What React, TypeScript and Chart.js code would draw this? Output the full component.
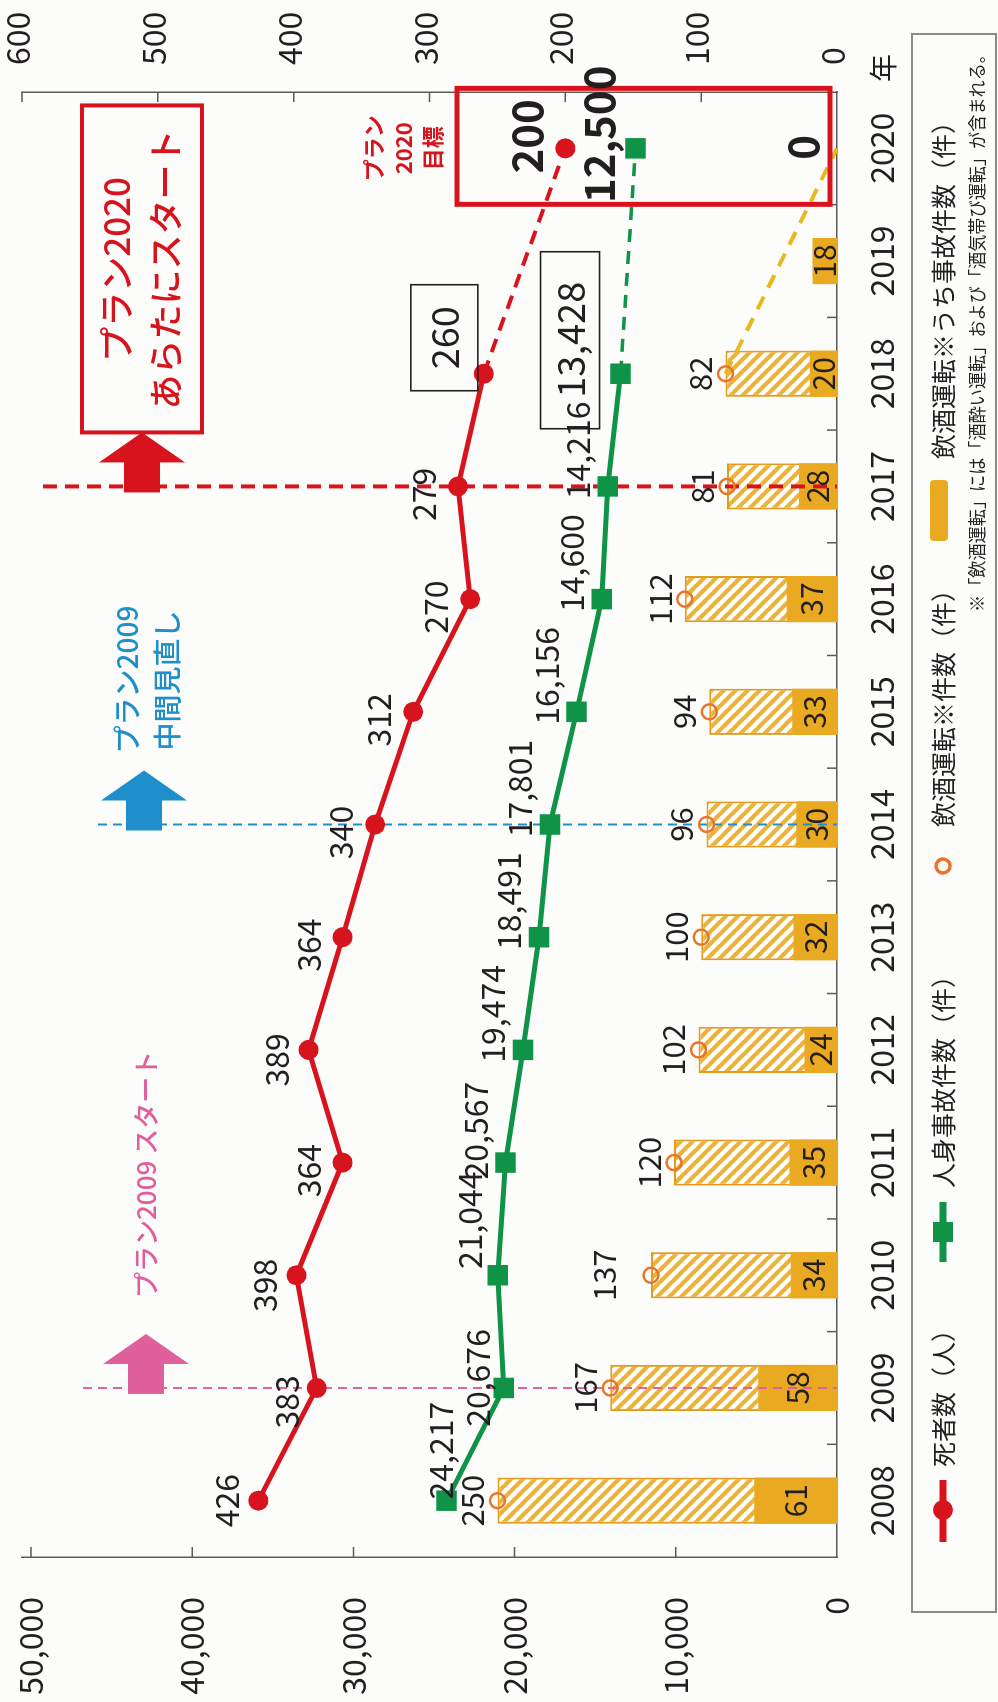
import { useEffect, useRef } from 'react';
import { Chart, registerables } from 'chart.js';

Chart.register(...registerables);

// ---------- data ----------
const years = ['2008', '2009', '2010', '2011', '2012', '2013', '2014', '2015', '2016', '2017', '2018', '2019', '2020'];
const deaths = [426, 383, 398, 364, 389, 364, 340, 312, 270, 279, 260, null, null];
const deathsTarget = [null, null, null, null, null, null, null, null, null, null, 260, null, 200];
const accidents = [24217, 20676, 21044, 20567, 19474, 18491, 17801, 16156, 14600, 14216, 13428, null, null];
const accidentsTarget = [null, null, null, null, null, null, null, null, null, null, 13428, null, 12500];
const drunkCases = [250, 167, 137, 120, 102, 100, 96, 94, 112, 81, 82, null, null];
const drunkCasesTarget = [null, null, null, null, null, null, null, null, null, null, 82, null, 0];
const drunkAccidents = [61, 58, 34, 35, 24, 32, 30, 33, 37, 28, 20, 18, null];
const accidentTicks = [0, 10000, 20000, 30000, 40000, 50000];
const deathTicks = [0, 100, 200, 300, 400, 500, 600];

// ---------- layout / style ----------
const W = 1702;
const H = 998;
const FONT = '"Noto Sans CJK JP", "Noto Sans", sans-serif';
const BG = '#fcfcfa';
const RED = '#d7141e';
const GREEN = '#0e9347';
const BLUE = '#1e8fcb';
const PINK = '#e0609e';
const GOLD = '#e9aa22';
const HATCH = '#ebb33a';
const BAR_EDGE = '#e59b1d';
const CIRCLE = '#e8762a';
const YELLOW = '#e8b820';
const TEXT = '#231f20';
const AXIS = '#5a5a5a';

const deathLabelOff: [number, number][] = [[0, -32], [-14, -30], [-10, -32], [-8, -34], [-10, -32], [-8, -34], [-8, -34], [-8, -34], [-8, -34], [-8, -34]];
const accLabelOff: [number, number][] = [[50, -6], [10, -26], [55, -28], [32, -30], [36, -30], [36, -30], [36, -30], [36, -30], [36, -30], [36, -30]];
const caseLabelOff: [number, number][] = [[0, -25], [0, -25], [0, -47], [0, -25], [0, -25], [0, -25], [0, -25], [0, -25], [0, -25], [0, -25], [0, -25]];

function makeHatch(): CanvasPattern {
  const s = 12;
  const c = document.createElement('canvas');
  c.width = s;
  c.height = s;
  const g = c.getContext('2d')!;
  g.fillStyle = '#ffffff';
  g.fillRect(0, 0, s, s);
  g.strokeStyle = HATCH;
  g.lineWidth = 4.2;
  for (const k of [-1, 0, 1]) {
    g.beginPath();
    g.moveTo(k * s - 1, -1);
    g.lineTo(k * s + s + 1, s + 1);
    g.stroke();
  }
  return g.createPattern(c, 'repeat')!;
}

function txt(ctx: CanvasRenderingContext2D, s: string, x: number, y: number, size: number, color: string, weight = 'normal', align: CanvasTextAlign = 'center', maxWidth?: number) {
  ctx.font = `${weight} ${size}px ${FONT}`;
  ctx.fillStyle = color;
  ctx.textAlign = align;
  ctx.textBaseline = 'middle';
  if (maxWidth) ctx.fillText(s, x, y, maxWidth);
  else ctx.fillText(s, x, y);
}

function arrow(ctx: CanvasRenderingContext2D, tailX: number, cy: number, color: string) {
  const len = 60, head = 30, hh = 43, sh = 18;
  ctx.fillStyle = color;
  ctx.beginPath();
  ctx.moveTo(tailX, cy - sh);
  ctx.lineTo(tailX + len - head, cy - sh);
  ctx.lineTo(tailX + len - head, cy - hh);
  ctx.lineTo(tailX + len, cy);
  ctx.lineTo(tailX + len - head, cy + hh);
  ctx.lineTo(tailX + len - head, cy + sh);
  ctx.lineTo(tailX, cy + sh);
  ctx.closePath();
  ctx.fill();
}

const fmt = (v: number) => v.toLocaleString('en-US');

export default function App() {
  const ref = useRef<HTMLCanvasElement>(null);

  useEffect(() => {
    document.body.style.margin = '0';
    const canvas = ref.current!;
    const hatch = makeHatch();
    const SOLID_IDX = 7;

    const overlay = {
      id: 'overlay',
      beforeDraw(chart: any) {
        const ctx = chart.ctx;
        ctx.save();
        ctx.fillStyle = BG;
        ctx.fillRect(0, 0, W, H);
        ctx.restore();
      },
      afterDatasetDraw(chart: any, args: any) {
        if (args.index !== SOLID_IDX) return;
        const ctx: CanvasRenderingContext2D = chart.ctx;
        const x = chart.scales.x;
        const bottom = chart.chartArea.bottom;
        const lines: [number, number, string, number, number[]][] = [
          [1, 83, PINK, 2, [9, 6]],
          [6, 98, BLUE, 2, [9, 6]],
          [9, 43, RED, 4, [14, 8]],
        ];
        ctx.save();
        for (const [i, top, col, lw, dash] of lines) {
          const px = x.getPixelForValue(i);
          ctx.strokeStyle = col;
          ctx.lineWidth = lw;
          ctx.setLineDash(dash);
          ctx.beginPath();
          ctx.moveTo(px, top);
          ctx.lineTo(px, bottom);
          ctx.stroke();
        }
        ctx.restore();
      },
      afterDraw(chart: any) {
        const ctx: CanvasRenderingContext2D = chart.ctx;
        const { x, y, y2 } = chart.scales;
        const area = chart.chartArea;
        ctx.save();

        // inward tick marks
        ctx.strokeStyle = AXIS;
        ctx.lineWidth = 1.5;
        ctx.setLineDash([]);
        ctx.beginPath();
        for (let i = 1; i < years.length; i++) {
          const px = (x.getPixelForValue(i - 1) + x.getPixelForValue(i)) / 2;
          ctx.moveTo(px, area.bottom);
          ctx.lineTo(px, area.bottom - 10);
        }
        for (const v of accidentTicks) {
          if (v === 0) continue;
          const py = y.getPixelForValue(v);
          ctx.moveTo(area.left, py);
          ctx.lineTo(area.left + 10, py);
        }
        for (const v of deathTicks) {
          if (v === 0) continue;
          const py = y2.getPixelForValue(v);
          ctx.moveTo(area.right, py);
          ctx.lineTo(area.right - 10, py);
        }
        ctx.stroke();

        // "年"
        txt(ctx, '年', area.right + 10, x.top + 46, 28, TEXT, 'normal', 'left');

        // death labels
        deaths.forEach((v, i) => {
          if (v == null || i === 10) return;
          const [dx, dy] = deathLabelOff[i];
          txt(ctx, fmt(v), x.getPixelForValue(i) + dx, y2.getPixelForValue(v) + dy, 32, TEXT);
        });
        // accident labels
        accidents.forEach((v, i) => {
          if (v == null || i === 10) return;
          const [dx, dy] = accLabelOff[i];
          txt(ctx, fmt(v), x.getPixelForValue(i) + dx, y.getPixelForValue(v) + dy, 32, TEXT);
        });
        // drunk-driving case labels
        drunkCases.forEach((v, i) => {
          if (v == null) return;
          const [dx, dy] = caseLabelOff[i];
          txt(ctx, fmt(v), x.getPixelForValue(i) + dx, y2.getPixelForValue(v) + dy, 31, TEXT);
        });
        // drunk accident labels (inside solid bars)
        drunkAccidents.forEach((v, i) => {
          if (v == null) return;
          const yc = (y2.getPixelForValue(0) + y2.getPixelForValue(v)) / 2;
          txt(ctx, fmt(v), x.getPixelForValue(i), yc, 30, TEXT);
        });

        // boxed 2018 labels
        const x18 = x.getPixelForValue(10);
        const yd18 = y2.getPixelForValue(deaths[10] as number);
        ctx.strokeStyle = TEXT;
        ctx.lineWidth = 1.6;
        ctx.strokeRect(x18 - 17, yd18 - 73, 106, 67);
        txt(ctx, fmt(deaths[10] as number), x18 + 36, yd18 - 39, 38, TEXT);
        const ya18 = y.getPixelForValue(accidents[10] as number);
        ctx.strokeRect(x18 - 55, ya18 - 80, 177, 59);
        txt(ctx, fmt(accidents[10] as number), x18 + 34, ya18 - 50, 38, TEXT);

        // 2020 target box
        const x20 = x.getPixelForValue(12);
        const yd20 = y2.getPixelForValue(deathsTarget[12] as number);
        const ya20 = y.getPixelForValue(accidentsTarget[12] as number);
        const yz20 = y2.getPixelForValue(drunkCasesTarget[12] as number);
        ctx.strokeStyle = RED;
        ctx.lineWidth = 5;
        ctx.strokeRect(x20 - 56, 457, 116, 373);
        txt(ctx, fmt(deathsTarget[12] as number), x20 + 12, yd20 - 38, 42, TEXT, 'bold');
        txt(ctx, fmt(accidentsTarget[12] as number), x20 + 14, ya20 - 36, 42, TEXT, 'bold');
        txt(ctx, fmt(drunkCasesTarget[12] as number), x20 + 1, yz20 - 34, 42, TEXT, 'bold');
        txt(ctx, 'プラン', x20, yd20 - 192, 22, RED, 'bold');
        txt(ctx, '2020', x20, yd20 - 162, 22, RED, 'bold');
        txt(ctx, '目標', x20, yd20 - 133, 22, RED, 'bold');

        // plan markers: arrows and captions
        const p09 = x.getPixelForValue(1);
        const p14 = x.getPixelForValue(6);
        const p17 = x.getPixelForValue(9);
        arrow(ctx, p09 - 6, 146, PINK);
        txt(ctx, 'プラン2009 スタート', p09 + 90, 146, 26, PINK, '500', 'left');
        arrow(ctx, p14 - 6, 144, BLUE);
        txt(ctx, 'プラン2009', p14 + 71, 127, 28, BLUE, '500', 'left');
        txt(ctx, '中間見直し', p14 + 74, 167, 28, BLUE, '500', 'left');
        arrow(ctx, p17 - 6, 142, RED);
        ctx.strokeStyle = RED;
        ctx.lineWidth = 4;
        ctx.strokeRect(p17 + 54, 82, 327, 120);
        txt(ctx, 'プラン2020', p17 + 217, 117, 35, RED, '500');
        txt(ctx, 'あらたにスタート', p17 + 217, 166, 35, RED, '500');

        // legend
        const ly = 943;
        ctx.strokeStyle = '#8a8a8a';
        ctx.lineWidth = 2;
        ctx.strokeRect(90, 912, 1578, 84);
        ctx.lineCap = 'butt';
        ctx.strokeStyle = RED;
        ctx.lineWidth = 7;
        ctx.beginPath();
        ctx.moveTo(160, ly);
        ctx.lineTo(222, ly);
        ctx.stroke();
        ctx.fillStyle = RED;
        ctx.beginPath();
        ctx.arc(192, ly, 10, 0, Math.PI * 2);
        ctx.fill();
        txt(ctx, '死者数（人）', 235, ly, 25, TEXT, 'normal', 'left');
        ctx.strokeStyle = GREEN;
        ctx.beginPath();
        ctx.moveTo(440, ly);
        ctx.lineTo(500, ly);
        ctx.stroke();
        ctx.fillStyle = GREEN;
        ctx.fillRect(460, ly - 10, 20, 20);
        txt(ctx, '人身事故件数（件）', 514, ly, 25, TEXT, 'normal', 'left');
        ctx.strokeStyle = CIRCLE;
        ctx.lineWidth = 3.5;
        ctx.beginPath();
        ctx.arc(836, ly, 7, 0, Math.PI * 2);
        ctx.stroke();
        txt(ctx, '飲酒運転※件数（件）', 875, ly, 25, TEXT, 'normal', 'left');
        ctx.fillStyle = GOLD;
        ctx.beginPath();
        (ctx as any).roundRect(1161, 930, 61, 18, 4);
        ctx.fill();
        txt(ctx, '飲酒運転※うち事故件数（件）', 1243, ly, 25, TEXT, 'normal', 'left');
        txt(ctx, '※「飲酒運転」には「酒酔い運転」および「酒気帯び運転」が含まれる。', 1656, 977, 18, TEXT, 'normal', 'right', 566);

        ctx.restore();
      },
    };

    const tickFont = { family: FONT, size: 32 };
    const ptRadius = (arr: (number | null)[], r: number) => arr.map((_, i) => (i === 12 ? r : 0));
    const noPad = (s: any) => { s.paddingTop = 0; s.paddingBottom = 0; s.paddingLeft = 0; s.paddingRight = 0; };

    const chart = new Chart(canvas, {
      data: {
        labels: years,
        datasets: [
          { type: 'line', data: deaths, yAxisID: 'y2', borderColor: RED, backgroundColor: RED, borderWidth: 5, pointRadius: 10, pointBorderWidth: 0, pointBackgroundColor: RED, order: 0 },
          { type: 'line', data: deathsTarget, yAxisID: 'y2', borderColor: RED, backgroundColor: RED, borderWidth: 4, borderDash: [14, 9], spanGaps: true, pointRadius: ptRadius(deathsTarget, 10), pointBorderWidth: 0, order: 0 },
          { type: 'line', data: accidents, yAxisID: 'y', borderColor: GREEN, backgroundColor: GREEN, borderWidth: 5, pointStyle: 'rect', pointRadius: 14.5, pointBorderWidth: 0, order: 0 },
          { type: 'line', data: accidentsTarget, yAxisID: 'y', borderColor: GREEN, backgroundColor: GREEN, borderWidth: 3.5, borderDash: [13, 9], spanGaps: true, pointStyle: 'rect', pointRadius: ptRadius(accidentsTarget, 14.5), pointBorderWidth: 0, order: 0 },
          { type: 'line', data: drunkCasesTarget, yAxisID: 'y2', borderColor: YELLOW, borderWidth: 4, borderDash: [14, 10], spanGaps: true, pointRadius: 0, order: 1 },
          { type: 'line', data: drunkCases, yAxisID: 'y2', showLine: false, pointRadius: 7.5, pointBorderWidth: 2.5, pointBorderColor: CIRCLE, pointBackgroundColor: 'rgba(255,255,255,0)', order: 0 },
          { type: 'bar', data: drunkCases, yAxisID: 'y2', backgroundColor: hatch, borderColor: BAR_EDGE, borderWidth: 2, barPercentage: 0.41, categoryPercentage: 1, grouped: false, order: 3 },
          { type: 'bar', data: drunkAccidents, yAxisID: 'y2', backgroundColor: GOLD, borderWidth: 0, barPercentage: 0.41, categoryPercentage: 1, grouped: false, order: 2 },
        ] as any,
      },
      options: {
        responsive: false,
        animation: false,
        events: [],
        layout: { padding: { top: 22, left: 0, right: 0, bottom: 0 } },
        plugins: { legend: { display: false }, tooltip: { enabled: false } },
        scales: {
          x: {
            type: 'category',
            offset: true,
            grid: { display: false, drawTicks: false },
            border: { display: true, color: AXIS, width: 1.5 },
            ticks: { font: tickFont, color: TEXT, padding: 26, maxRotation: 0, autoSkip: false },
            afterFit: (s: any) => { s.height = 161; noPad(s); },
          },
          y: {
            type: 'linear',
            position: 'left',
            min: 0,
            max: 50558,
            grid: { display: false, drawTicks: false },
            border: { display: true, color: AXIS, width: 1.5 },
            ticks: { font: tickFont, color: TEXT, padding: 40, callback: (v: any) => fmt(Number(v)) },
            afterBuildTicks: (s: any) => { s.ticks = accidentTicks.map((v) => ({ value: v })); },
            afterFit: (s: any) => { s.width = 145; noPad(s); },
          },
          y2: {
            type: 'linear',
            position: 'right',
            min: 0,
            max: 600,
            grid: { display: false, drawTicks: false },
            border: { display: true, color: AXIS, width: 1.5 },
            ticks: { font: tickFont, color: TEXT, padding: 27, labelOffset: -4, callback: (v: any) => fmt(Number(v)) },
            afterBuildTicks: (s: any) => { s.ticks = deathTicks.map((v) => ({ value: v })); },
            afterFit: (s: any) => { s.width = 92; noPad(s); },
          },
        },
      } as any,
      plugins: [overlay as any],
    });
    return () => chart.destroy();
  }, []);

  return (
    <div style={{ position: 'relative', width: 998, height: 1702, overflow: 'hidden', background: BG }}>
      <div style={{ position: 'absolute', left: 0, top: 0, width: W, height: H, transformOrigin: '0 0', transform: `translate(0px, ${W}px) rotate(-90deg)` }}>
        <canvas ref={ref} width={W} height={H} style={{ width: W, height: H, display: 'block' }} />
      </div>
    </div>
  );
}
